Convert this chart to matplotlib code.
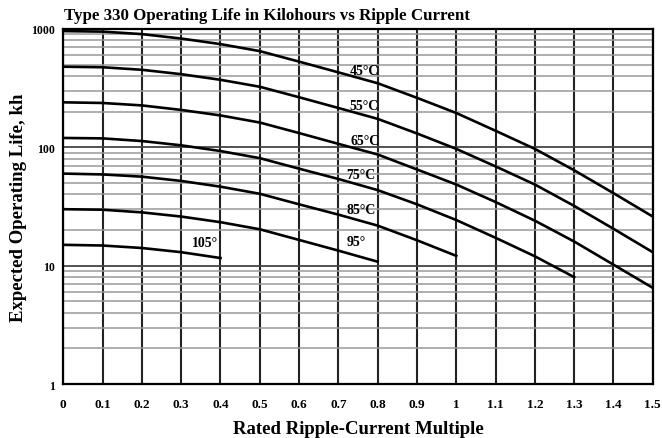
import numpy as np
import matplotlib
matplotlib.use("Agg")
import matplotlib.pyplot as plt
from matplotlib.ticker import FixedLocator, NullFormatter

# ripple-current multiple, 0.1 steps
ripple = [0.0, 0.1, 0.2, 0.3, 0.4, 0.5, 0.6, 0.7, 0.8, 0.9, 1.0, 1.1, 1.2, 1.3, 1.4, 1.5]

life_45 = [960, 950, 905, 830, 745, 650, 530, 430, 348, 262, 195, 138, 97, 64, 41, 26]
life_55 = [480, 475, 452, 415, 372, 325, 265, 215, 174, 131, 97, 69, 48.5, 32, 20.5, 13]
life_65 = [240, 237, 226, 207, 186, 162, 132, 107, 87, 65, 48.5, 34.5, 24, 16, 10.2, 6.5]
life_75 = [120, 119, 113, 104, 93, 81, 66, 54, 43.5, 33, 24.3, 17.2, 12, 8.0]
life_85 = [60, 59, 56.5, 52, 46.5, 40.5, 33, 27, 21.8, 16.4, 12.1]
life_95 = [30, 29.7, 28.2, 26, 23.3, 20.3, 16.5, 13.4, 10.8]
life_105 = [15, 14.8, 14.1, 13, 11.6]

series = [life_45, life_55, life_65, life_75, life_85, life_95, life_105]
labels = ["45°C", "55°C", "65°C", "75°C", "85°C", "95°", "105°"]
label_x = [0.73, 0.728, 0.73, 0.72, 0.72, 0.72, 0.328]
label_y = [445, 225, 114, 59.5, 29.7, 15.9, 15.7]

xticks = [0, 0.1, 0.2, 0.3, 0.4, 0.5, 0.6, 0.7, 0.8, 0.9, 1, 1.1, 1.2, 1.3, 1.4, 1.5]
yticks = [1, 10, 100, 1000]

plt.rcParams['font.family'] = ['Liberation Serif', 'DejaVu Serif']
plt.rcParams['font.weight'] = 'bold'

fig = plt.figure(figsize=(6.62, 4.39), dpi=100)
ax = fig.add_axes([0.0956, 0.123, 0.8904, 0.8087])

for vals in series:
    ax.plot(ripple[:len(vals)], vals, color='black', lw=1.9, zorder=3)

for lab, lx, ly in zip(labels, label_x, label_y):
    ax.text(lx, ly, lab, fontsize=10, fontweight='bold', ha='left', va='center', zorder=4)

ax.set_yscale('log')
ax.set_xlim(0, 1.5)
ax.set_ylim(1, 1000)

ax.xaxis.set_major_locator(FixedLocator(xticks))
ax.set_xticklabels([('%g' % t) for t in xticks], fontsize=9.5, fontweight='bold')
ax.yaxis.set_major_locator(FixedLocator(yticks))
ax.set_yticklabels([str(t) for t in yticks], fontsize=8.5, fontweight='bold')
minors = [m * 10 ** d for d in range(3) for m in range(2, 10)]
ax.yaxis.set_minor_locator(FixedLocator(minors))
ax.yaxis.set_minor_formatter(NullFormatter())
ax.tick_params(which='both', length=0)
ax.tick_params(axis='x', pad=10)
ax.tick_params(axis='y', pad=6)

ax.grid(True, axis='x', which='major', color='#222222', lw=1.5)
ax.grid(True, axis='y', which='major', color='#444444', lw=1.3)
ax.grid(True, axis='y', which='minor', color='#999999', lw=1.1)
for s in ax.spines.values():
    s.set_linewidth(1.6)

# title sits left of the axes centre in the original
fig.text(0.403, 0.964, "Type 330 Operating Life in Kilohours vs Ripple Current",
         fontsize=12.2, fontweight='bold', ha='center', va='center')
ax.set_xlabel("Rated Ripple-Current Multiple", fontsize=13.5, fontweight='bold', labelpad=7)
fig.text(0.028, 0.527, "Expected Operating Life, kh", fontsize=13.5, fontweight='bold',
         rotation=90, ha='center', va='center')

fig.savefig("out.png", dpi=100)
